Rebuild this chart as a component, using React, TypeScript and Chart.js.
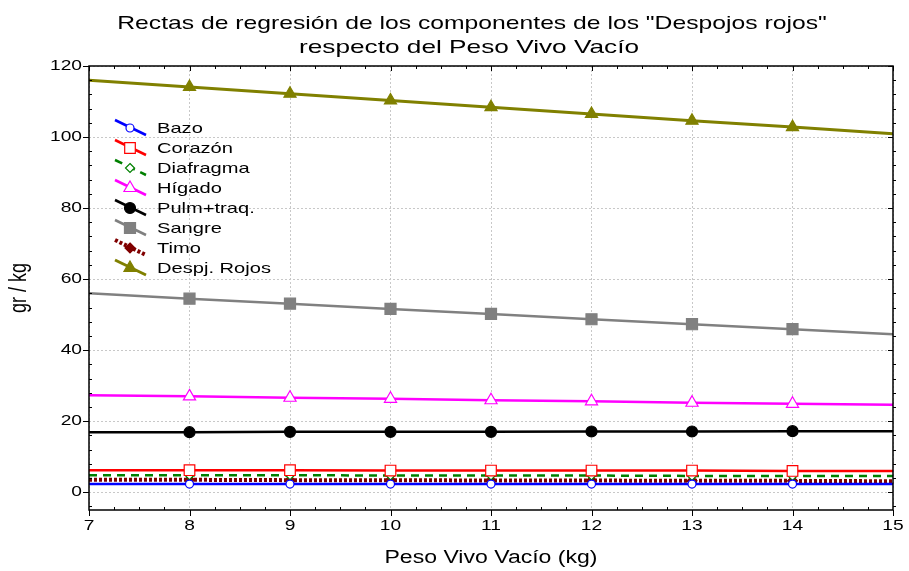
import React, { useEffect, useRef } from "react";
import { Chart, registerables } from "chart.js";

Chart.register(...registerables);

// ---------- data ----------
const TITLE_LINES = [
  'Rectas de regresión de los componentes de los "Despojos rojos"',
  "respecto del Peso Vivo Vacío",
];
const X_TITLE = "Peso Vivo Vacío (kg)";
const Y_TITLE = "gr / kg";

const X_VALUES = [7, 8, 9, 10, 11, 12, 13, 14, 15];
const X_TICKS = [7, 8, 9, 10, 11, 12, 13, 14, 15];
const Y_TICKS = [0, 20, 40, 60, 80, 100, 120];

const SERIES_NAMES = [
  "Bazo",
  "Corazón",
  "Diafragma",
  "Hígado",
  "Pulm+traq.",
  "Sangre",
  "Timo",
  "Despj. Rojos",
];

const BAZO = [2.3, 2.3, 2.3, 2.3, 2.3, 2.3, 2.3, 2.3, 2.3];
const CORAZON = [6.2, 6.2, 6.2, 6.1, 6.1, 6.1, 6.1, 6.0, 6.0];
const DIAFRAGMA = [4.8, 4.8, 4.8, 4.7, 4.7, 4.7, 4.6, 4.6, 4.6];
const HIGADO = [27.3, 27.0, 26.6, 26.3, 25.9, 25.6, 25.2, 24.9, 24.6];
const PULM = [16.9, 16.9, 17.0, 17.0, 17.0, 17.1, 17.1, 17.2, 17.2];
const SANGRE = [56.0, 54.5, 53.1, 51.6, 50.2, 48.7, 47.3, 45.9, 44.5];
const TIMO = [3.5, 3.5, 3.4, 3.4, 3.3, 3.3, 3.2, 3.2, 3.1];
const DESPJ = [116.0, 114.1, 112.2, 110.3, 108.4, 106.5, 104.6, 102.8, 100.9];

const SERIES_VALUES = [BAZO, CORAZON, DIAFRAGMA, HIGADO, PULM, SANGRE, TIMO, DESPJ];

// ---------- styles ----------
type Sty = {
  color: string;
  width: number;
  dash: number[];
  marker: string;
  radius: number;
  filled: boolean;
};
const STYLES: Sty[] = [
  { color: "#0000ff", width: 2.5, dash: [], marker: "circle", radius: 4, filled: false },
  { color: "#ff0000", width: 2.5, dash: [], marker: "rect", radius: 7.5, filled: false },
  { color: "#008000", width: 2.5, dash: [8, 6], marker: "rectRot", radius: 4.5, filled: false },
  { color: "#ff00ff", width: 2.5, dash: [], marker: "triangle", radius: 7, filled: false },
  { color: "#000000", width: 2.5, dash: [], marker: "circle", radius: 5.5, filled: true },
  { color: "#808080", width: 2.5, dash: [], marker: "rect", radius: 7.8, filled: true },
  { color: "#800000", width: 4, dash: [3, 2], marker: "rectRot", radius: 5, filled: true },
  { color: "#808000", width: 3, dash: [], marker: "triangle", radius: 7, filled: true },
];

const FONT = '"Liberation Sans", Arial, sans-serif';
const SX = 1.28;

function drawText(
  ctx: CanvasRenderingContext2D,
  text: string,
  x: number,
  y: number,
  size: number,
  align: CanvasTextAlign,
  rotate = false,
  sx = SX
) {
  ctx.save();
  ctx.translate(x, y);
  ctx.scale(sx, 1);
  if (rotate) ctx.rotate(-Math.PI / 2);
  ctx.font = `${size}px ${FONT}`;
  ctx.fillStyle = "#000";
  ctx.textAlign = align;
  ctx.textBaseline = "middle";
  ctx.fillText(text, 0, 0);
  ctx.restore();
}

function drawMarker(ctx: CanvasRenderingContext2D, s: Sty, x: number, y: number) {
  const r = s.radius;
  ctx.save();
  ctx.setLineDash([]);
  ctx.lineWidth = 1.2;
  ctx.strokeStyle = s.color;
  ctx.fillStyle = s.filled ? s.color : "#ffffff";
  ctx.beginPath();
  if (s.marker === "circle") {
    ctx.arc(x, y, r, 0, Math.PI * 2);
  } else if (s.marker === "rect") {
    const h = Math.SQRT1_2 * r;
    ctx.rect(x - h, y - h, 2 * h, 2 * h);
  } else if (s.marker === "rectRot") {
    ctx.moveTo(x, y - r);
    ctx.lineTo(x + r, y);
    ctx.lineTo(x, y + r);
    ctx.lineTo(x - r, y);
    ctx.closePath();
  } else if (s.marker === "triangle") {
    const side = r * Math.sqrt(3);
    ctx.moveTo(x, y - r);
    ctx.lineTo(x + side / 2, y + r / 2);
    ctx.lineTo(x - side / 2, y + r / 2);
    ctx.closePath();
  }
  ctx.fill();
  ctx.stroke();
  ctx.restore();
}

const decorPlugin = {
  id: "decor",
  afterDraw(chart: any) {
    const ctx: CanvasRenderingContext2D = chart.ctx;
    const a = chart.chartArea;
    const xs = chart.scales.x;
    const ys = chart.scales.y;

    // frame
    ctx.save();
    ctx.strokeStyle = "#000";
    ctx.lineWidth = 1.5;
    ctx.setLineDash([]);
    ctx.strokeRect(a.left, a.top, a.right - a.left, a.bottom - a.top);

    ctx.lineWidth = 1;
    ctx.beginPath();
    // x ticks
    for (let v = 7; v <= 15.001; v += 0.25) {
      const px = Math.round(xs.getPixelForValue(v)) + 0.5;
      const major = Math.abs(v - Math.round(v)) < 1e-6;
      if (major) {
        ctx.moveTo(px, a.bottom);
        ctx.lineTo(px, a.bottom + 6);
        ctx.moveTo(px, a.top);
        ctx.lineTo(px, a.top + 5);
      } else {
        ctx.moveTo(px, a.bottom);
        ctx.lineTo(px, a.bottom - 3);
        ctx.moveTo(px, a.top);
        ctx.lineTo(px, a.top + 3);
      }
    }
    // y ticks
    for (let v = -4; v <= 120; v += 4) {
      const py = Math.round(ys.getPixelForValue(v)) + 0.5;
      const major = v % 20 === 0;
      if (major) {
        ctx.moveTo(a.left, py);
        ctx.lineTo(a.left - 6, py);
        ctx.moveTo(a.right, py);
        ctx.lineTo(a.right - 5, py);
      } else {
        ctx.moveTo(a.left, py);
        ctx.lineTo(a.left + 3, py);
        ctx.moveTo(a.right, py);
        ctx.lineTo(a.right + 3, py);
      }
    }
    ctx.stroke();
    ctx.restore();

    // tick labels
    X_TICKS.forEach((v) => drawText(ctx, String(v), xs.getPixelForValue(v), 526, 15, "center"));
    Y_TICKS.forEach((v) => drawText(ctx, String(v), 82, ys.getPixelForValue(v), 15, "right"));

    // titles
    drawText(ctx, TITLE_LINES[0], 472, 24, 19, "center", false, 1.3);
    drawText(ctx, TITLE_LINES[1], 469, 48, 19, "center", false, 1.38);
    drawText(ctx, X_TITLE, (a.left + a.right) / 2, 558, 18, "center");
    drawText(ctx, Y_TITLE, 20, (a.top + a.bottom) / 2, 18, "center", true);

    // legend
    SERIES_NAMES.forEach((name, i) => {
      const s = STYLES[i];
      const cy = 128 + i * 20;
      ctx.save();
      ctx.strokeStyle = s.color;
      ctx.lineWidth = s.width;
      ctx.setLineDash(s.dash);
      ctx.beginPath();
      ctx.moveTo(115, cy - 8);
      ctx.lineTo(146, cy + 7);
      ctx.stroke();
      ctx.restore();
      drawMarker(ctx, s, 130, cy);
      drawText(ctx, name, 157, cy + 1, 15, "left", false, 1.34);
    });
  },
};

export default function App() {
  const ref = useRef<HTMLCanvasElement | null>(null);

  useEffect(() => {
    document.body.style.margin = "0";
    const canvas = ref.current;
    if (!canvas) return;

    const datasets = SERIES_NAMES.map((name, i) => {
      const s = STYLES[i];
      const vals = SERIES_VALUES[i];
      return {
        label: name,
        data: X_VALUES.map((x, j) => ({ x, y: vals[j] })),
        borderColor: s.color,
        borderWidth: s.width,
        borderDash: s.dash,
        backgroundColor: s.filled ? s.color : "#ffffff",
        pointBorderColor: s.color,
        pointBackgroundColor: s.filled ? s.color : "#ffffff",
        pointBorderWidth: 1.2,
        pointStyle: s.marker,
        pointRadius: X_VALUES.map((x) => (x === X_VALUES[0] || x === X_VALUES[X_VALUES.length - 1] ? 0 : s.radius)),
        tension: 0,
        fill: false,
      };
    });

    const chart = new Chart(canvas, {
      type: "line",
      data: { datasets: datasets as any },
      options: {
        animation: false,
        responsive: false,
        events: [],
        layout: { padding: { left: 89, top: 66, right: 16, bottom: 61 } },
        plugins: {
          legend: { display: false },
          title: { display: false },
          tooltip: { enabled: false },
        },
        scales: {
          x: {
            type: "linear",
            min: 7,
            max: 15,
            afterFit: (s: any) => {
              s.height = 0;
            },
            ticks: { display: false, stepSize: 1 },
            grid: { color: "#c8c8c8", lineWidth: 1, drawTicks: false },
            border: { display: false, dash: [2, 2] },
          },
          y: {
            type: "linear",
            min: -5,
            max: 120,
            afterFit: (s: any) => {
              s.width = 0;
            },
            ticks: { display: false, stepSize: 20 },
            grid: {
              color: (c: any) => (c.tick && c.tick.value === -5 ? "rgba(0,0,0,0)" : "#c8c8c8"),
              lineWidth: 1,
              drawTicks: false,
            },
            border: { display: false, dash: [2, 2] },
          },
        },
      },
      plugins: [decorPlugin],
    });

    return () => chart.destroy();
  }, []);

  return (
    <div style={{ width: 909, height: 571, background: "#fff" }}>
      <canvas ref={ref} width={909} height={571} />
    </div>
  );
}
